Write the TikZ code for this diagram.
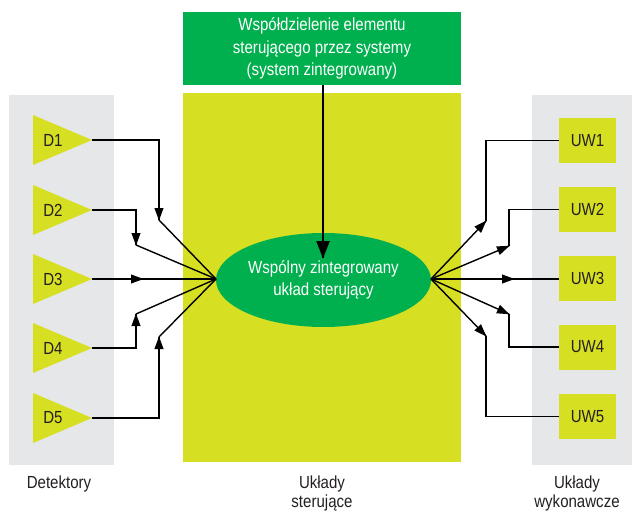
\documentclass[tikz,border=0pt]{standalone}
\usepackage{fontspec}
\setmainfont{Liberation Sans}[FakeStretch=0.86]
\usetikzlibrary{shapes.geometric}
\definecolor{ylw}{HTML}{D7DF23}
\definecolor{grn}{HTML}{00B04F}
\definecolor{gry}{HTML}{E6E7E8}
\definecolor{txt}{HTML}{231F20}
\begin{document}
\begin{tikzpicture}[x=1pt,y=-1pt,
  font=\fontsize{17.5}{22}\selectfont, text=txt,
  wire/.style={draw=black, line width=1.4pt},
  ahead/.pic={\fill[black] (0.5,0) -- (-12,4.6) -- (-12,-4.6) -- cycle;},
  bhead/.pic={\fill[black] (0.5,0) -- (-17,6.8) -- (-17,-6.8) -- cycle;},
  uwbox/.style={fill=ylw, minimum width=57pt, minimum height=45pt, inner sep=0pt},
  lbl/.style={anchor=base, inner sep=0pt}]
\useasboundingbox (0,0) rectangle (632,511);
% panels
\fill[gry] (9,95) rectangle (114,465);
\fill[gry] (532,95) rectangle (632,465);
\fill[ylw] (183,93) rectangle (461,462);
% top box
\node[fill=grn, minimum width=278pt, minimum height=73pt, inner sep=0pt,
      text=white, align=center, font=\fontsize{17.5}{22.5}\selectfont] (top) at (322,48.5)
  {Współdzielenie elementu\\sterującego przez systemy\\(system zintegrowany)};
% hub ellipse
\node[ellipse, fill=grn, minimum width=215pt, minimum height=94pt, inner sep=0pt,
      text=white, align=center] (hub) at (323.5,280)
  {Wspólny zintegrowany\\układ sterujący};
% detectors
\foreach \i/\y in {1/140,2/210,3/279,4/348,5/418}{
  \fill[ylw] (33,\y-25) -- (92,\y) -- (33,\y+25) -- cycle;
  \coordinate (D\i) at (92,\y);
  \node (DL\i) at (53,\y) {D\i};
}
% actuators
\foreach \i/\y in {1/140.5,2/209.5,3/278.5,4/347,5/416.5}{
  \node[uwbox] (UW\i) at (587.5,\y) {UW\i};
}
% left corners
\coordinate (c1) at (159,220);
\coordinate (c2) at (136,245);
\coordinate (c3) at (143,279);
\coordinate (c4) at (136,314);
\coordinate (c5) at (159,337);
\coordinate (hl) at (216,279);
\foreach \i in {1,2,4,5}{
  \draw[wire] (D\i) -| (c\i) pic[pos=1, sloped] {ahead};
  \draw[wire] (c\i) -- (hl);
}
\draw[wire] (D3) -- (c3) pic[pos=1, sloped] {ahead};
\draw[wire] (c3) -- (hl);
% right corners
\coordinate (hr) at (431,279);
\coordinate (e1) at (486,221);
\coordinate (e2) at (509,246);
\coordinate (e3) at (514,279);
\coordinate (e4) at (509,314);
\coordinate (e5) at (486,336);
\foreach \i in {1,2,4,5}{
  \draw[wire] (hr) -- (e\i) pic[pos=1, sloped] {ahead};
  \draw[wire] (e\i) |- (UW\i.west);
}
\draw[wire] (hr) -- (e3) pic[pos=1, sloped] {ahead};
\draw[wire] (e3) -- (e3 -| UW3.west);
% top arrow
\coordinate (tt) at (323,258);
\draw[draw=black, line width=2.2pt] (top.south -| tt) -- (tt) pic[pos=1, sloped] {bhead};
% bottom labels
\node[lbl] (L1) at (59,488) {Detektory};
\node[lbl] (L2a) at (322,488) {Układy};
\node[lbl] (L2b) at (322,507) {sterujące};
\node[lbl] (L3a) at (577,488) {Układy};
\node[lbl] (L3b) at (577,507) {wykonawcze};
\end{tikzpicture}
\end{document}
